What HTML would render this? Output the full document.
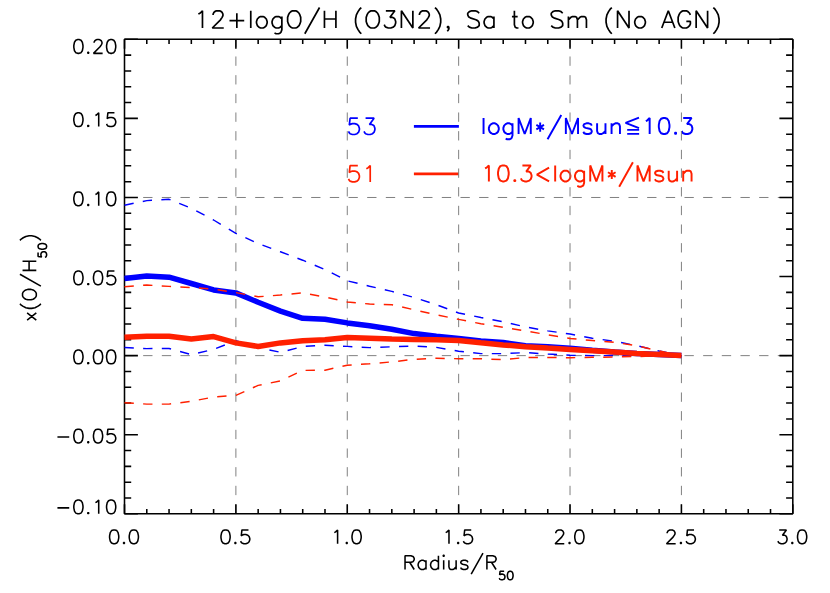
<!DOCTYPE html>
<html><head><meta charset="utf-8"><title>chart</title>
<style>html,body{margin:0;padding:0;background:#fff;font-family:"Liberation Sans",sans-serif}svg{display:block}</style></head>
<body>
<svg width="830" height="593" viewBox="0 0 830 593" stroke-linecap="butt" stroke-linejoin="bevel">
<rect width="830" height="593" fill="#fff"/>
<path transform="translate(346.2 134.5) translate(0 0)" d="M2.33 -3.1 L3.1 -1.55 L3.88 -0.78 L6.2 0 L8.53 0 L10.85 -0.78 L12.4 -2.33 L13.18 -4.65 L13.18 -6.2 L12.4 -8.53 L10.85 -10.08 L8.53 -10.85 L6.2 -10.85 L3.88 -10.08 L3.1 -9.3 L3.88 -16.28 L11.62 -16.28M17.82 -3.1 L18.6 -1.55 L19.38 -0.78 L21.7 0 L24.02 0 L26.35 -0.78 L27.9 -2.33 L28.68 -4.65 L28.68 -6.2 L27.9 -8.53 L27.12 -9.3 L25.58 -10.08 L23.25 -10.08 L27.9 -16.28 L19.38 -16.28" fill="none" stroke="#0000ff" stroke-width="1.7"/>
<path transform="translate(346.2 181.9) translate(0 0)" d="M2.33 -3.1 L3.1 -1.55 L3.88 -0.78 L6.2 0 L8.53 0 L10.85 -0.78 L12.4 -2.33 L13.18 -4.65 L13.18 -6.2 L12.4 -8.53 L10.85 -10.08 L8.53 -10.85 L6.2 -10.85 L3.88 -10.08 L3.1 -9.3 L3.88 -16.28 L11.62 -16.28M20.15 -13.18 L21.7 -13.95 L24.02 -16.28 L24.02 0" fill="none" stroke="#ff2000" stroke-width="1.7"/>
<path d="M413.9 126.4H458.9" stroke="#0000ff" stroke-width="2.75"/>
<path d="M413.9 173.9H458.9" stroke="#ff2000" stroke-width="2.75"/>
<path transform="translate(480.5 134) translate(0 0)" d="M3.05 -16 L3.05 0M18.29 -6.1 L17.53 -8.38 L16 -9.91 L14.48 -10.67 L12.19 -10.67 L10.67 -9.91 L9.14 -8.38 L8.38 -6.1 L8.38 -4.57 L9.14 -2.29 L10.67 -0.76 L12.19 0 L14.48 0 L16 -0.76 L17.53 -2.29 L18.29 -4.57ZM32 -8.38 L30.48 -9.91 L28.96 -10.67 L26.67 -10.67 L25.15 -9.91 L23.62 -8.38 L22.86 -6.1 L22.86 -4.57 L23.62 -2.29 L25.15 -0.76 L26.67 0 L28.96 0 L30.48 -0.76 L32 -2.29M25.15 4.57 L26.67 5.33 L28.96 5.33 L30.48 4.57 L31.24 3.81 L32 1.52 L32 -10.67M50.29 0 L50.29 -16 L44.2 0 L38.1 -16 L38.1 0M59.66 -11.43 L59.66 -2.29M55.85 -9.14 L63.47 -4.57M55.85 -4.57 L63.47 -9.14M67.06 5.33 L80.77 -19.05M97.54 0 L97.54 -16 L91.44 0 L85.34 -16 L85.34 0M102.87 -2.29 L103.63 -0.76 L105.92 0 L108.2 0 L110.49 -0.76 L111.25 -2.29 L111.25 -3.05 L110.49 -4.57 L108.97 -5.33 L105.16 -6.1 L103.63 -6.86 L102.87 -8.38 L103.63 -9.91 L105.92 -10.67 L108.2 -10.67 L110.49 -9.91 L111.25 -8.38M116.59 -10.67 L116.59 -3.05 L117.35 -0.76 L118.87 0 L121.16 0 L122.68 -0.76 L124.97 -3.05M124.97 -10.67 L124.97 0M131.06 -10.67 L131.06 0M131.06 -7.62 L133.35 -9.91 L134.87 -10.67 L137.16 -10.67 L138.68 -9.91 L139.45 -7.62 L139.45 0M158.5 -16.31 L145.08 -11.2 L158.5 -5.94M146.69 -4.11 L158.65 -4.11M146.69 -0.15 L158.65 -0.15M165.35 -12.95 L166.88 -13.72 L169.16 -16 L169.16 0M188.98 -9.14 L188.21 -12.95 L186.69 -15.24 L184.4 -16 L182.88 -16 L180.59 -15.24 L179.07 -12.95 L178.31 -9.14 L178.31 -6.86 L179.07 -3.05 L180.59 -0.76 L182.88 0 L184.4 0 L186.69 -0.76 L188.21 -3.05 L188.98 -6.86ZM195.07 0 L194.31 -0.76 L195.07 -1.52 L195.83 -0.76ZM201.17 -3.05 L201.93 -1.52 L202.69 -0.76 L204.98 0 L207.26 0 L209.55 -0.76 L211.07 -2.29 L211.84 -4.57 L211.84 -6.1 L211.07 -8.38 L210.31 -9.14 L208.79 -9.91 L206.5 -9.91 L211.07 -16 L202.69 -16" fill="none" stroke="#0000ff" stroke-width="1.95"/>
<path transform="translate(480.5 181.4) translate(0 0)" d="M4.57 -12.95 L6.1 -13.72 L8.38 -16 L8.38 0M28.19 -9.14 L27.43 -12.95 L25.91 -15.24 L23.62 -16 L22.1 -16 L19.81 -15.24 L18.29 -12.95 L17.53 -9.14 L17.53 -6.86 L18.29 -3.05 L19.81 -0.76 L22.1 0 L23.62 0 L25.91 -0.76 L27.43 -3.05 L28.19 -6.86ZM34.29 0 L33.53 -0.76 L34.29 -1.52 L35.05 -0.76ZM40.39 -3.05 L41.15 -1.52 L41.91 -0.76 L44.2 0 L46.48 0 L48.77 -0.76 L50.29 -2.29 L51.05 -4.57 L51.05 -6.1 L50.29 -8.38 L49.53 -9.14 L48.01 -9.91 L45.72 -9.91 L50.29 -16 L41.91 -16M68.58 0 L56.39 -6.86 L68.58 -13.72M74.68 -16 L74.68 0M89.92 -6.1 L89.15 -8.38 L87.63 -9.91 L86.11 -10.67 L83.82 -10.67 L82.3 -9.91 L80.77 -8.38 L80.01 -6.1 L80.01 -4.57 L80.77 -2.29 L82.3 -0.76 L83.82 0 L86.11 0 L87.63 -0.76 L89.15 -2.29 L89.92 -4.57ZM103.63 -8.38 L102.11 -9.91 L100.58 -10.67 L98.3 -10.67 L96.77 -9.91 L95.25 -8.38 L94.49 -6.1 L94.49 -4.57 L95.25 -2.29 L96.77 -0.76 L98.3 0 L100.58 0 L102.11 -0.76 L103.63 -2.29M96.77 4.57 L98.3 5.33 L100.58 5.33 L102.11 4.57 L102.87 3.81 L103.63 1.52 L103.63 -10.67M121.92 0 L121.92 -16 L115.82 0 L109.73 -16 L109.73 0M131.29 -11.43 L131.29 -2.29M127.48 -9.14 L135.1 -4.57M127.48 -4.57 L135.1 -9.14M138.68 5.33 L152.4 -19.05M169.16 0 L169.16 -16 L163.07 0 L156.97 -16 L156.97 0M174.5 -2.29 L175.26 -0.76 L177.55 0 L179.83 0 L182.12 -0.76 L182.88 -2.29 L182.88 -3.05 L182.12 -4.57 L180.59 -5.33 L176.78 -6.1 L175.26 -6.86 L174.5 -8.38 L175.26 -9.91 L177.55 -10.67 L179.83 -10.67 L182.12 -9.91 L182.88 -8.38M188.21 -10.67 L188.21 -3.05 L188.98 -0.76 L190.5 0 L192.79 0 L194.31 -0.76 L196.6 -3.05M196.6 -10.67 L196.6 0M202.69 -10.67 L202.69 0M202.69 -7.62 L204.98 -9.91 L206.5 -10.67 L208.79 -10.67 L210.31 -9.91 L211.07 -7.62 L211.07 0" fill="none" stroke="#ff2000" stroke-width="1.95"/>
<path d="M235.88 513.8V39.3M347.27 513.8V39.3M458.65 513.8V39.3M570.03 513.8V39.3M681.42 513.8V39.3M124.5 355.63H792.8M124.5 197.47H792.8" stroke="#808080" stroke-width="1" stroke-dasharray="9.333 9.333" fill="none"/>
<path d="M124.5 513.8v-9.5M124.5 39.3v9.5M146.78 513.8v-4.75M146.78 39.3v4.75M169.05 513.8v-4.75M169.05 39.3v4.75M191.33 513.8v-4.75M191.33 39.3v4.75M213.61 513.8v-4.75M213.61 39.3v4.75M235.88 513.8v-9.5M235.88 39.3v9.5M258.16 513.8v-4.75M258.16 39.3v4.75M280.44 513.8v-4.75M280.44 39.3v4.75M302.71 513.8v-4.75M302.71 39.3v4.75M324.99 513.8v-4.75M324.99 39.3v4.75M347.27 513.8v-9.5M347.27 39.3v9.5M369.54 513.8v-4.75M369.54 39.3v4.75M391.82 513.8v-4.75M391.82 39.3v4.75M414.1 513.8v-4.75M414.1 39.3v4.75M436.37 513.8v-4.75M436.37 39.3v4.75M458.65 513.8v-9.5M458.65 39.3v9.5M480.93 513.8v-4.75M480.93 39.3v4.75M503.2 513.8v-4.75M503.2 39.3v4.75M525.48 513.8v-4.75M525.48 39.3v4.75M547.76 513.8v-4.75M547.76 39.3v4.75M570.03 513.8v-9.5M570.03 39.3v9.5M592.31 513.8v-4.75M592.31 39.3v4.75M614.59 513.8v-4.75M614.59 39.3v4.75M636.86 513.8v-4.75M636.86 39.3v4.75M659.14 513.8v-4.75M659.14 39.3v4.75M681.42 513.8v-9.5M681.42 39.3v9.5M703.69 513.8v-4.75M703.69 39.3v4.75M725.97 513.8v-4.75M725.97 39.3v4.75M748.25 513.8v-4.75M748.25 39.3v4.75M770.52 513.8v-4.75M770.52 39.3v4.75M792.8 513.8v-9.5M792.8 39.3v9.5M124.5 513.8h13.4M792.8 513.8h-13.4M124.5 497.98h6.7M792.8 497.98h-6.7M124.5 482.17h6.7M792.8 482.17h-6.7M124.5 466.35h6.7M792.8 466.35h-6.7M124.5 450.53h6.7M792.8 450.53h-6.7M124.5 434.72h13.4M792.8 434.72h-13.4M124.5 418.9h6.7M792.8 418.9h-6.7M124.5 403.08h6.7M792.8 403.08h-6.7M124.5 387.27h6.7M792.8 387.27h-6.7M124.5 371.45h6.7M792.8 371.45h-6.7M124.5 355.63h13.4M792.8 355.63h-13.4M124.5 339.82h6.7M792.8 339.82h-6.7M124.5 324h6.7M792.8 324h-6.7M124.5 308.18h6.7M792.8 308.18h-6.7M124.5 292.37h6.7M792.8 292.37h-6.7M124.5 276.55h13.4M792.8 276.55h-13.4M124.5 260.73h6.7M792.8 260.73h-6.7M124.5 244.92h6.7M792.8 244.92h-6.7M124.5 229.1h6.7M792.8 229.1h-6.7M124.5 213.28h6.7M792.8 213.28h-6.7M124.5 197.47h13.4M792.8 197.47h-13.4M124.5 181.65h6.7M792.8 181.65h-6.7M124.5 165.83h6.7M792.8 165.83h-6.7M124.5 150.02h6.7M792.8 150.02h-6.7M124.5 134.2h6.7M792.8 134.2h-6.7M124.5 118.38h13.4M792.8 118.38h-13.4M124.5 102.57h6.7M792.8 102.57h-6.7M124.5 86.75h6.7M792.8 86.75h-6.7M124.5 70.93h6.7M792.8 70.93h-6.7M124.5 55.12h6.7M792.8 55.12h-6.7M124.5 39.3h13.4M792.8 39.3h-13.4" stroke="#000" stroke-width="1.55" fill="none"/>
<rect x="124.5" y="39.3" width="668.3" height="474.5" fill="none" stroke="#000" stroke-width="1.55"/>
<polyline points="124.5,278.5 146.78,275.9 169.05,277.2 191.33,283.5 213.61,289.9 235.88,292.9 258.16,302.3 280.44,311.1 302.71,318.3 324.99,319.3 347.27,322.9 369.54,325.7 391.82,329.3 414.1,333.6 436.37,336.2 458.65,338.5 480.93,340.9 503.2,342.5 525.48,345.7 547.76,346.7 570.03,348.3 592.31,350.2 614.59,352 636.86,353.4 659.14,354.6 681.42,355.6" fill="none" stroke="#0000ff" stroke-width="5.5"/>
<polyline points="124.5,205.2 146.78,200.6 169.05,199.3 191.33,208.2 213.61,220 235.88,233.4 258.16,243.5 280.44,251.8 302.71,260.2 324.99,269.6 347.27,280.8 369.54,286.2 391.82,291.4 414.1,297.5 436.37,304.7 458.65,313 480.93,317.5 503.2,321.8 525.48,326.9 547.76,330.9 570.03,334 592.31,338.2 614.59,341.3 636.86,345.7 659.14,351 681.42,355.6" fill="none" stroke="#0000ff" stroke-width="1.45" stroke-dasharray="9.333 9.333"/>
<polyline points="124.5,347.5 146.78,348.6 169.05,348.5 191.33,354.7 213.61,349.3 235.88,340.7 258.16,347.5 280.44,352.3 302.71,346.5 324.99,345.2 347.27,346.4 369.54,347.6 391.82,346.8 414.1,346 436.37,347.4 458.65,351.2 480.93,353.6 503.2,353.6 525.48,352.6 547.76,354 570.03,355.3 592.31,355.6 614.59,355.6 636.86,355.6 659.14,355.6 681.42,355.6" fill="none" stroke="#0000ff" stroke-width="1.45" stroke-dasharray="9.333 9.333"/>
<polyline points="124.5,337.2 146.78,336.2 169.05,336.2 191.33,339 213.61,336.6 235.88,342.9 258.16,346.5 280.44,342.9 302.71,340.7 324.99,339.7 347.27,337.4 369.54,338.2 391.82,339 414.1,339.4 436.37,339.8 458.65,340.5 480.93,342.8 503.2,344.9 525.48,346.7 547.76,348.1 570.03,349.4 592.31,350.7 614.59,352 636.86,353.4 659.14,354.6 681.42,355.6" fill="none" stroke="#ff2000" stroke-width="5.5"/>
<polyline points="124.5,286.7 146.78,285 169.05,286.4 191.33,287.5 213.61,289.1 235.88,292.6 258.16,296.8 280.44,295 302.71,292.9 324.99,297 347.27,302 369.54,304 391.82,304.7 414.1,309.8 436.37,314.8 458.65,319.4 480.93,323.7 503.2,327.3 525.48,330.9 547.76,334.8 570.03,338.5 592.31,340.5 614.59,342.4 636.86,345.7 659.14,351 681.42,355.6" fill="none" stroke="#ff2000" stroke-width="1.45" stroke-dasharray="9.333 9.333"/>
<polyline points="124.5,402.7 146.78,404.1 169.05,404.1 191.33,401.3 213.61,397.1 235.88,395.3 258.16,385.4 280.44,380.9 302.71,370.4 324.99,370.2 347.27,365.2 369.54,363.8 391.82,361.9 414.1,359.3 436.37,358.3 458.65,358.7 480.93,358.7 503.2,359.7 525.48,357.5 547.76,357.5 570.03,357.7 592.31,357.3 614.59,357 636.86,356.5 659.14,355.9 681.42,355.6" fill="none" stroke="#ff2000" stroke-width="1.45" stroke-dasharray="9.333 9.333"/>
<path transform="translate(457.9 28) translate(-264.44 0)" d="M4.91 -13.92 L6.55 -14.74 L9.01 -17.19 L9.01 0M30.29 0 L18.83 0 L27.02 -8.19 L28.65 -10.64 L29.47 -12.28 L29.47 -13.92 L28.65 -15.56 L27.84 -16.37 L26.2 -17.19 L22.92 -17.19 L21.29 -16.37 L20.47 -15.56 L19.65 -13.92 L19.65 -13.1M36.02 -7.37 L50.76 -7.37M43.39 -14.74 L43.39 0M57.31 -17.19 L57.31 0M73.68 -6.55 L72.86 -9.01 L71.23 -10.64 L69.59 -11.46 L67.13 -11.46 L65.5 -10.64 L63.86 -9.01 L63.04 -6.55 L63.04 -4.91 L63.86 -2.46 L65.5 -0.82 L67.13 0 L69.59 0 L71.23 -0.82 L72.86 -2.46 L73.68 -4.91ZM88.42 -9.01 L86.78 -10.64 L85.14 -11.46 L82.69 -11.46 L81.05 -10.64 L79.41 -9.01 L78.6 -6.55 L78.6 -4.91 L79.41 -2.46 L81.05 -0.82 L82.69 0 L85.14 0 L86.78 -0.82 L88.42 -2.46M81.05 4.91 L82.69 5.73 L85.14 5.73 L86.78 4.91 L87.6 4.09 L88.42 1.64 L88.42 -11.46M107.25 -10.64 L106.43 -13.1 L105.61 -14.74 L103.97 -16.37 L102.34 -17.19 L99.06 -17.19 L97.43 -16.37 L95.79 -14.74 L94.97 -13.1 L94.15 -10.64 L94.15 -6.55 L94.97 -4.09 L95.79 -2.46 L97.43 -0.82 L99.06 0 L102.34 0 L103.97 -0.82 L105.61 -2.46 L106.43 -4.09 L107.25 -6.55ZM111.34 5.73 L126.08 -20.47M130.99 -17.19 L130.99 0M130.99 -9.01 L142.45 -9.01M142.45 -17.19 L142.45 0M167.83 -20.47 L166.2 -18.83 L164.56 -16.37 L162.92 -13.1 L162.1 -9.01 L162.1 -5.73 L162.92 -1.64 L164.56 1.64 L166.2 4.09 L167.83 5.73M185.84 -10.64 L185.03 -13.1 L184.21 -14.74 L182.57 -16.37 L180.93 -17.19 L177.66 -17.19 L176.02 -16.37 L174.38 -14.74 L173.56 -13.1 L172.75 -10.64 L172.75 -6.55 L173.56 -4.09 L174.38 -2.46 L176.02 -0.82 L177.66 0 L180.93 0 L182.57 -0.82 L184.21 -2.46 L185.03 -4.09 L185.84 -6.55ZM190.76 -3.27 L191.58 -1.64 L192.39 -0.82 L194.85 0 L197.31 0 L199.76 -0.82 L201.4 -2.46 L202.22 -4.91 L202.22 -6.55 L201.4 -9.01 L200.58 -9.82 L198.94 -10.64 L196.49 -10.64 L201.4 -17.19 L192.39 -17.19M219.41 -17.19 L219.41 0 L207.95 -17.19 L207.95 0M236.6 0 L225.14 0 L233.33 -8.19 L234.97 -10.64 L235.79 -12.28 L235.79 -13.92 L234.97 -15.56 L234.15 -16.37 L232.51 -17.19 L229.24 -17.19 L227.6 -16.37 L226.78 -15.56 L225.96 -13.92 L225.96 -13.1M241.52 -20.47 L243.15 -18.83 L244.79 -16.37 L246.43 -13.1 L247.25 -9.01 L247.25 -5.73 L246.43 -1.64 L244.79 1.64 L243.15 4.09 L241.52 5.73M254.62 0 L253.8 -0.82 L254.62 -1.64 L255.43 -0.82ZM253.8 3.27 L254.62 2.46 L255.43 0.82 L255.43 -0.82M285.73 -14.74 L284.09 -16.37 L281.63 -17.19 L278.36 -17.19 L275.9 -16.37 L274.26 -14.74 L274.26 -13.1 L275.08 -11.46 L275.9 -10.64 L277.54 -9.82 L282.45 -8.19 L284.09 -7.37 L284.91 -6.55 L285.73 -4.91 L285.73 -2.46 L284.09 -0.82 L281.63 0 L278.36 0 L275.9 -0.82 L274.26 -2.46M300.46 -9.01 L298.83 -10.64 L297.19 -11.46 L294.73 -11.46 L293.09 -10.64 L291.46 -9.01 L290.64 -6.55 L290.64 -4.91 L291.46 -2.46 L293.09 -0.82 L294.73 0 L297.19 0 L298.83 -0.82 L300.46 -2.46M300.46 -11.46 L300.46 0M318.47 -11.46 L324.21 -11.46M320.93 -17.19 L320.93 -3.27 L321.75 -0.82 L323.39 0 L325.02 0M339.76 -6.55 L338.94 -9.01 L337.3 -10.64 L335.67 -11.46 L333.21 -11.46 L331.57 -10.64 L329.94 -9.01 L329.12 -6.55 L329.12 -4.91 L329.94 -2.46 L331.57 -0.82 L333.21 0 L335.67 0 L337.3 -0.82 L338.94 -2.46 L339.76 -4.91ZM369.23 -14.74 L367.6 -16.37 L365.14 -17.19 L361.87 -17.19 L359.41 -16.37 L357.77 -14.74 L357.77 -13.1 L358.59 -11.46 L359.41 -10.64 L361.05 -9.82 L365.96 -8.19 L367.6 -7.37 L368.42 -6.55 L369.23 -4.91 L369.23 -2.46 L367.6 -0.82 L365.14 0 L361.87 0 L359.41 -0.82 L357.77 -2.46M374.96 -11.46 L374.96 0M374.96 -8.19 L377.42 -10.64 L379.06 -11.46 L381.51 -11.46 L383.15 -10.64 L383.97 -8.19 L383.97 0M383.97 -8.19 L386.43 -10.64 L388.06 -11.46 L390.52 -11.46 L392.16 -10.64 L392.98 -8.19 L392.98 0M418.36 -20.47 L416.72 -18.83 L415.08 -16.37 L413.44 -13.1 L412.62 -9.01 L412.62 -5.73 L413.44 -1.64 L415.08 1.64 L416.72 4.09 L418.36 5.73M435.55 -17.19 L435.55 0 L424.09 -17.19 L424.09 0M451.92 -6.55 L451.1 -9.01 L449.47 -10.64 L447.83 -11.46 L445.37 -11.46 L443.74 -10.64 L442.1 -9.01 L441.28 -6.55 L441.28 -4.91 L442.1 -2.46 L443.74 -0.82 L445.37 0 L447.83 0 L449.47 -0.82 L451.1 -2.46 L451.92 -4.91ZM468.3 0 L474.85 -17.19 L481.4 0M470.75 -5.73 L478.94 -5.73M496.95 -13.1 L496.13 -14.74 L494.49 -16.37 L492.86 -17.19 L489.58 -17.19 L487.95 -16.37 L486.31 -14.74 L485.49 -13.1 L484.67 -10.64 L484.67 -6.55 L485.49 -4.09 L486.31 -2.46 L487.95 -0.82 L489.58 0 L492.86 0 L494.49 -0.82 L496.13 -2.46 L496.95 -4.09 L496.95 -6.55 L492.86 -6.55M514.14 -17.19 L514.14 0 L502.68 -17.19 L502.68 0M519.87 -20.47 L521.51 -18.83 L523.15 -16.37 L524.79 -13.1 L525.61 -9.01 L525.61 -5.73 L524.79 -1.64 L523.15 1.64 L521.51 4.09 L519.87 5.73" fill="none" stroke="#000" stroke-width="1.7"/>
<path transform="translate(124 543.7) translate(-16.38 0)" d="M11.13 -7.86 L10.48 -11.13 L9.17 -13.1 L7.21 -13.76 L5.9 -13.76 L3.93 -13.1 L2.62 -11.13 L1.97 -7.86 L1.97 -5.9 L2.62 -2.62 L3.93 -0.66 L5.9 0 L7.21 0 L9.17 -0.66 L10.48 -2.62 L11.13 -5.9ZM16.38 0 L15.72 -0.66 L16.38 -1.31 L17.03 -0.66ZM30.79 -7.86 L30.13 -11.13 L28.82 -13.1 L26.86 -13.76 L25.55 -13.76 L23.58 -13.1 L22.27 -11.13 L21.62 -7.86 L21.62 -5.9 L22.27 -2.62 L23.58 -0.66 L25.55 0 L26.86 0 L28.82 -0.66 L30.13 -2.62 L30.79 -5.9Z" fill="none" stroke="#000" stroke-width="1.55"/>
<path transform="translate(235.38 543.7) translate(-16.38 0)" d="M11.13 -7.86 L10.48 -11.13 L9.17 -13.1 L7.21 -13.76 L5.9 -13.76 L3.93 -13.1 L2.62 -11.13 L1.97 -7.86 L1.97 -5.9 L2.62 -2.62 L3.93 -0.66 L5.9 0 L7.21 0 L9.17 -0.66 L10.48 -2.62 L11.13 -5.9ZM16.38 0 L15.72 -0.66 L16.38 -1.31 L17.03 -0.66ZM21.62 -2.62 L22.27 -1.31 L22.93 -0.66 L24.89 0 L26.86 0 L28.82 -0.66 L30.13 -1.97 L30.79 -3.93 L30.79 -5.24 L30.13 -7.21 L28.82 -8.52 L26.86 -9.17 L24.89 -9.17 L22.93 -8.52 L22.27 -7.86 L22.93 -13.76 L29.48 -13.76" fill="none" stroke="#000" stroke-width="1.55"/>
<path transform="translate(346.77 543.7) translate(-16.38 0)" d="M3.93 -11.13 L5.24 -11.79 L7.21 -13.76 L7.21 0M16.38 0 L15.72 -0.66 L16.38 -1.31 L17.03 -0.66ZM30.79 -7.86 L30.13 -11.13 L28.82 -13.1 L26.86 -13.76 L25.55 -13.76 L23.58 -13.1 L22.27 -11.13 L21.62 -7.86 L21.62 -5.9 L22.27 -2.62 L23.58 -0.66 L25.55 0 L26.86 0 L28.82 -0.66 L30.13 -2.62 L30.79 -5.9Z" fill="none" stroke="#000" stroke-width="1.55"/>
<path transform="translate(458.15 543.7) translate(-16.38 0)" d="M3.93 -11.13 L5.24 -11.79 L7.21 -13.76 L7.21 0M16.38 0 L15.72 -0.66 L16.38 -1.31 L17.03 -0.66ZM21.62 -2.62 L22.27 -1.31 L22.93 -0.66 L24.89 0 L26.86 0 L28.82 -0.66 L30.13 -1.97 L30.79 -3.93 L30.79 -5.24 L30.13 -7.21 L28.82 -8.52 L26.86 -9.17 L24.89 -9.17 L22.93 -8.52 L22.27 -7.86 L22.93 -13.76 L29.48 -13.76" fill="none" stroke="#000" stroke-width="1.55"/>
<path transform="translate(569.53 543.7) translate(-16.38 0)" d="M11.13 0 L1.97 0 L8.52 -6.55 L9.83 -8.52 L10.48 -9.83 L10.48 -11.13 L9.83 -12.45 L9.17 -13.1 L7.86 -13.76 L5.24 -13.76 L3.93 -13.1 L3.28 -12.45 L2.62 -11.13 L2.62 -10.48M16.38 0 L15.72 -0.66 L16.38 -1.31 L17.03 -0.66ZM30.79 -7.86 L30.13 -11.13 L28.82 -13.1 L26.86 -13.76 L25.55 -13.76 L23.58 -13.1 L22.27 -11.13 L21.62 -7.86 L21.62 -5.9 L22.27 -2.62 L23.58 -0.66 L25.55 0 L26.86 0 L28.82 -0.66 L30.13 -2.62 L30.79 -5.9Z" fill="none" stroke="#000" stroke-width="1.55"/>
<path transform="translate(680.92 543.7) translate(-16.38 0)" d="M11.13 0 L1.97 0 L8.52 -6.55 L9.83 -8.52 L10.48 -9.83 L10.48 -11.13 L9.83 -12.45 L9.17 -13.1 L7.86 -13.76 L5.24 -13.76 L3.93 -13.1 L3.28 -12.45 L2.62 -11.13 L2.62 -10.48M16.38 0 L15.72 -0.66 L16.38 -1.31 L17.03 -0.66ZM21.62 -2.62 L22.27 -1.31 L22.93 -0.66 L24.89 0 L26.86 0 L28.82 -0.66 L30.13 -1.97 L30.79 -3.93 L30.79 -5.24 L30.13 -7.21 L28.82 -8.52 L26.86 -9.17 L24.89 -9.17 L22.93 -8.52 L22.27 -7.86 L22.93 -13.76 L29.48 -13.76" fill="none" stroke="#000" stroke-width="1.55"/>
<path transform="translate(792.3 543.7) translate(-16.38 0)" d="M1.97 -2.62 L2.62 -1.31 L3.28 -0.66 L5.24 0 L7.21 0 L9.17 -0.66 L10.48 -1.97 L11.13 -3.93 L11.13 -5.24 L10.48 -7.21 L9.83 -7.86 L8.52 -8.52 L6.55 -8.52 L10.48 -13.76 L3.28 -13.76M16.38 0 L15.72 -0.66 L16.38 -1.31 L17.03 -0.66ZM30.79 -7.86 L30.13 -11.13 L28.82 -13.1 L26.86 -13.76 L25.55 -13.76 L23.58 -13.1 L22.27 -11.13 L21.62 -7.86 L21.62 -5.9 L22.27 -2.62 L23.58 -0.66 L25.55 0 L26.86 0 L28.82 -0.66 L30.13 -2.62 L30.79 -5.9Z" fill="none" stroke="#000" stroke-width="1.55"/>
<path transform="translate(117.7 513.8) translate(-62.88 0)" d="M2.62 -5.9 L14.41 -5.9M28.16 -7.86 L27.51 -11.13 L26.2 -13.1 L24.23 -13.76 L22.93 -13.76 L20.96 -13.1 L19.65 -11.13 L19 -7.86 L19 -5.9 L19.65 -2.62 L20.96 -0.66 L22.93 0 L24.23 0 L26.2 -0.66 L27.51 -2.62 L28.16 -5.9ZM33.41 0 L32.75 -0.66 L33.41 -1.31 L34.06 -0.66ZM40.61 -11.13 L41.92 -11.79 L43.89 -13.76 L43.89 0M60.92 -7.86 L60.26 -11.13 L58.95 -13.1 L56.99 -13.76 L55.68 -13.76 L53.71 -13.1 L52.4 -11.13 L51.75 -7.86 L51.75 -5.9 L52.4 -2.62 L53.71 -0.66 L55.68 0 L56.99 0 L58.95 -0.66 L60.26 -2.62 L60.92 -5.9Z" fill="none" stroke="#000" stroke-width="1.55"/>
<path transform="translate(117.7 442.92) translate(-62.88 0)" d="M2.62 -5.9 L14.41 -5.9M28.16 -7.86 L27.51 -11.13 L26.2 -13.1 L24.23 -13.76 L22.93 -13.76 L20.96 -13.1 L19.65 -11.13 L19 -7.86 L19 -5.9 L19.65 -2.62 L20.96 -0.66 L22.93 0 L24.23 0 L26.2 -0.66 L27.51 -2.62 L28.16 -5.9ZM33.41 0 L32.75 -0.66 L33.41 -1.31 L34.06 -0.66ZM47.82 -7.86 L47.16 -11.13 L45.85 -13.1 L43.89 -13.76 L42.58 -13.76 L40.61 -13.1 L39.3 -11.13 L38.65 -7.86 L38.65 -5.9 L39.3 -2.62 L40.61 -0.66 L42.58 0 L43.89 0 L45.85 -0.66 L47.16 -2.62 L47.82 -5.9ZM51.75 -2.62 L52.4 -1.31 L53.06 -0.66 L55.02 0 L56.99 0 L58.95 -0.66 L60.26 -1.97 L60.92 -3.93 L60.92 -5.24 L60.26 -7.21 L58.95 -8.52 L56.99 -9.17 L55.02 -9.17 L53.06 -8.52 L52.4 -7.86 L53.06 -13.76 L59.61 -13.76" fill="none" stroke="#000" stroke-width="1.55"/>
<path transform="translate(117.7 363.83) translate(-45.85 0)" d="M11.13 -7.86 L10.48 -11.13 L9.17 -13.1 L7.21 -13.76 L5.9 -13.76 L3.93 -13.1 L2.62 -11.13 L1.97 -7.86 L1.97 -5.9 L2.62 -2.62 L3.93 -0.66 L5.9 0 L7.21 0 L9.17 -0.66 L10.48 -2.62 L11.13 -5.9ZM16.38 0 L15.72 -0.66 L16.38 -1.31 L17.03 -0.66ZM30.79 -7.86 L30.13 -11.13 L28.82 -13.1 L26.86 -13.76 L25.55 -13.76 L23.58 -13.1 L22.27 -11.13 L21.62 -7.86 L21.62 -5.9 L22.27 -2.62 L23.58 -0.66 L25.55 0 L26.86 0 L28.82 -0.66 L30.13 -2.62 L30.79 -5.9ZM43.88 -7.86 L43.23 -11.13 L41.92 -13.1 L39.95 -13.76 L38.65 -13.76 L36.68 -13.1 L35.37 -11.13 L34.72 -7.86 L34.72 -5.9 L35.37 -2.62 L36.68 -0.66 L38.65 0 L39.95 0 L41.92 -0.66 L43.23 -2.62 L43.88 -5.9Z" fill="none" stroke="#000" stroke-width="1.55"/>
<path transform="translate(117.7 284.75) translate(-45.85 0)" d="M11.13 -7.86 L10.48 -11.13 L9.17 -13.1 L7.21 -13.76 L5.9 -13.76 L3.93 -13.1 L2.62 -11.13 L1.97 -7.86 L1.97 -5.9 L2.62 -2.62 L3.93 -0.66 L5.9 0 L7.21 0 L9.17 -0.66 L10.48 -2.62 L11.13 -5.9ZM16.38 0 L15.72 -0.66 L16.38 -1.31 L17.03 -0.66ZM30.79 -7.86 L30.13 -11.13 L28.82 -13.1 L26.86 -13.76 L25.55 -13.76 L23.58 -13.1 L22.27 -11.13 L21.62 -7.86 L21.62 -5.9 L22.27 -2.62 L23.58 -0.66 L25.55 0 L26.86 0 L28.82 -0.66 L30.13 -2.62 L30.79 -5.9ZM34.72 -2.62 L35.37 -1.31 L36.02 -0.66 L37.99 0 L39.95 0 L41.92 -0.66 L43.23 -1.97 L43.88 -3.93 L43.88 -5.24 L43.23 -7.21 L41.92 -8.52 L39.95 -9.17 L37.99 -9.17 L36.02 -8.52 L35.37 -7.86 L36.02 -13.76 L42.58 -13.76" fill="none" stroke="#000" stroke-width="1.55"/>
<path transform="translate(117.7 205.67) translate(-45.85 0)" d="M11.13 -7.86 L10.48 -11.13 L9.17 -13.1 L7.21 -13.76 L5.9 -13.76 L3.93 -13.1 L2.62 -11.13 L1.97 -7.86 L1.97 -5.9 L2.62 -2.62 L3.93 -0.66 L5.9 0 L7.21 0 L9.17 -0.66 L10.48 -2.62 L11.13 -5.9ZM16.38 0 L15.72 -0.66 L16.38 -1.31 L17.03 -0.66ZM23.58 -11.13 L24.89 -11.79 L26.86 -13.76 L26.86 0M43.88 -7.86 L43.23 -11.13 L41.92 -13.1 L39.95 -13.76 L38.65 -13.76 L36.68 -13.1 L35.37 -11.13 L34.72 -7.86 L34.72 -5.9 L35.37 -2.62 L36.68 -0.66 L38.65 0 L39.95 0 L41.92 -0.66 L43.23 -2.62 L43.88 -5.9Z" fill="none" stroke="#000" stroke-width="1.55"/>
<path transform="translate(117.7 126.58) translate(-45.85 0)" d="M11.13 -7.86 L10.48 -11.13 L9.17 -13.1 L7.21 -13.76 L5.9 -13.76 L3.93 -13.1 L2.62 -11.13 L1.97 -7.86 L1.97 -5.9 L2.62 -2.62 L3.93 -0.66 L5.9 0 L7.21 0 L9.17 -0.66 L10.48 -2.62 L11.13 -5.9ZM16.38 0 L15.72 -0.66 L16.38 -1.31 L17.03 -0.66ZM23.58 -11.13 L24.89 -11.79 L26.86 -13.76 L26.86 0M34.72 -2.62 L35.37 -1.31 L36.02 -0.66 L37.99 0 L39.95 0 L41.92 -0.66 L43.23 -1.97 L43.88 -3.93 L43.88 -5.24 L43.23 -7.21 L41.92 -8.52 L39.95 -9.17 L37.99 -9.17 L36.02 -8.52 L35.37 -7.86 L36.02 -13.76 L42.58 -13.76" fill="none" stroke="#000" stroke-width="1.55"/>
<path transform="translate(117.7 53.35) translate(-45.85 0)" d="M11.13 -7.86 L10.48 -11.13 L9.17 -13.1 L7.21 -13.76 L5.9 -13.76 L3.93 -13.1 L2.62 -11.13 L1.97 -7.86 L1.97 -5.9 L2.62 -2.62 L3.93 -0.66 L5.9 0 L7.21 0 L9.17 -0.66 L10.48 -2.62 L11.13 -5.9ZM16.38 0 L15.72 -0.66 L16.38 -1.31 L17.03 -0.66ZM30.79 0 L21.62 0 L28.17 -6.55 L29.48 -8.52 L30.13 -9.83 L30.13 -11.13 L29.48 -12.45 L28.82 -13.1 L27.51 -13.76 L24.89 -13.76 L23.58 -13.1 L22.93 -12.45 L22.27 -11.13 L22.27 -10.48M43.88 -7.86 L43.23 -11.13 L41.92 -13.1 L39.95 -13.76 L38.65 -13.76 L36.68 -13.1 L35.37 -11.13 L34.72 -7.86 L34.72 -5.9 L35.37 -2.62 L36.68 -0.66 L38.65 0 L39.95 0 L41.92 -0.66 L43.23 -2.62 L43.88 -5.9Z" fill="none" stroke="#000" stroke-width="1.55"/>
<path transform="translate(458.35 569.5) translate(-55.94 0)" d="M2.62 -7.21 L8.52 -7.21 L10.48 -7.86 L11.13 -8.52 L11.79 -9.83 L11.79 -11.13 L11.13 -12.45 L10.48 -13.1 L8.52 -13.76 L2.62 -13.76 L2.62 0M7.21 -7.21 L11.79 0M23.58 -7.21 L22.27 -8.52 L20.96 -9.17 L19 -9.17 L17.69 -8.52 L16.38 -7.21 L15.72 -5.24 L15.72 -3.93 L16.38 -1.97 L17.69 -0.66 L19 0 L20.96 0 L22.27 -0.66 L23.58 -1.97M23.58 -9.17 L23.58 0M36.03 -7.21 L34.72 -8.52 L33.41 -9.17 L31.44 -9.17 L30.13 -8.52 L28.82 -7.21 L28.17 -5.24 L28.17 -3.93 L28.82 -1.97 L30.13 -0.66 L31.44 0 L33.41 0 L34.72 -0.66 L36.03 -1.97M36.03 -13.76 L36.03 0M41.27 -13.1 L40.61 -13.76 L41.27 -14.41 L41.92 -13.76ZM41.27 -9.17 L41.27 0M46.51 -9.17 L46.51 -2.62 L47.16 -0.66 L48.47 0 L50.44 0 L51.75 -0.66 L53.71 -2.62M53.71 -9.17 L53.71 0M58.3 -1.97 L58.95 -0.66 L60.92 0 L62.88 0 L64.84 -0.66 L65.5 -1.97 L65.5 -2.62 L64.84 -3.93 L63.54 -4.58 L60.26 -5.24 L58.95 -5.9 L58.3 -7.21 L58.95 -8.52 L60.92 -9.17 L62.88 -9.17 L64.84 -8.52 L65.5 -7.21M68.78 4.58 L80.56 -16.38M84.5 -7.21 L90.39 -7.21 L92.36 -7.86 L93.01 -8.52 L93.67 -9.83 L93.67 -11.13 L93.01 -12.45 L92.36 -13.1 L90.39 -13.76 L84.5 -13.76 L84.5 0M89.08 -7.21 L93.67 0M96.85 8.68 L97.25 9.49 L97.66 9.89 L98.88 10.3 L100.1 10.3 L101.32 9.89 L102.13 9.08 L102.53 7.86 L102.53 7.05 L102.13 5.83 L101.32 5.02 L100.1 4.61 L98.88 4.61 L97.66 5.02 L97.25 5.43 L97.66 1.77 L101.72 1.77M110.66 5.43 L110.25 3.4 L109.44 2.18 L108.22 1.77 L107.41 1.77 L106.19 2.18 L105.38 3.4 L104.97 5.43 L104.97 6.65 L105.38 8.68 L106.19 9.89 L107.41 10.3 L108.22 10.3 L109.44 9.89 L110.25 8.68 L110.66 6.65Z" fill="none" stroke="#000" stroke-width="1.55"/>
<path transform="translate(36.3 277.65) rotate(-90) translate(-44.47 0)" d="M1.97 -9.17 L9.17 0M1.97 0 L9.17 -9.17M18.34 -16.38 L17.03 -15.07 L15.72 -13.1 L14.41 -10.48 L13.75 -7.21 L13.75 -4.58 L14.41 -1.31 L15.72 1.31 L17.03 3.28 L18.34 4.58M32.75 -8.52 L32.09 -10.48 L31.44 -11.79 L30.13 -13.1 L28.82 -13.76 L26.2 -13.76 L24.89 -13.1 L23.58 -11.79 L22.93 -10.48 L22.27 -8.52 L22.27 -5.24 L22.93 -3.28 L23.58 -1.97 L24.89 -0.66 L26.2 0 L28.82 0 L30.13 -0.66 L31.44 -1.97 L32.09 -3.28 L32.75 -5.24ZM36.03 4.58 L47.82 -16.38M51.74 -13.76 L51.74 0M51.74 -7.21 L60.91 -7.21M60.91 -13.76 L60.91 0M64.75 8.68 L65.16 9.49 L65.57 9.89 L66.78 10.3 L68 10.3 L69.22 9.89 L70.03 9.08 L70.44 7.86 L70.44 7.05 L70.03 5.83 L69.22 5.02 L68 4.61 L66.78 4.61 L65.57 5.02 L65.16 5.43 L65.57 1.77 L69.63 1.77M78.56 5.43 L78.15 3.4 L77.34 2.18 L76.12 1.77 L75.31 1.77 L74.09 2.18 L73.28 3.4 L72.88 5.43 L72.88 6.65 L73.28 8.68 L74.09 9.89 L75.31 10.3 L76.12 10.3 L77.34 9.89 L78.15 8.68 L78.56 6.65ZM81.74 -16.38 L83.05 -15.07 L84.36 -13.1 L85.67 -10.48 L86.33 -7.21 L86.33 -4.58 L85.67 -1.31 L84.36 1.31 L83.05 3.28 L81.74 4.58" fill="none" stroke="#000" stroke-width="1.55"/>
</svg>
</body></html>
